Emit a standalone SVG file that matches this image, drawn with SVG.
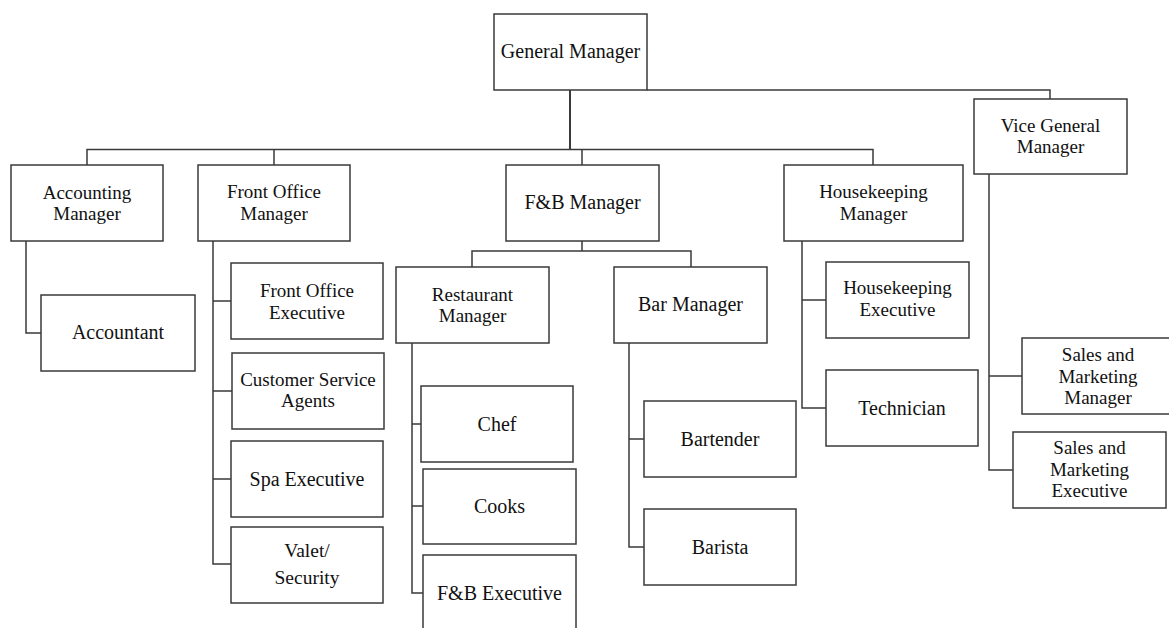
<svg xmlns="http://www.w3.org/2000/svg" width="1169" height="628" viewBox="0 0 1169 628">
<style>
.box{fill:#fff;stroke:#3a3a3a;stroke-width:1.5}
.ln{fill:none;stroke:#3a3a3a;stroke-width:1.5}
text{font-family:"Liberation Serif","Times New Roman",serif;font-size:19.5px;fill:#111;text-anchor:middle}
.m{font-size:19px}
</style>
<rect width="1169" height="628" fill="#fff"/>
<g id="connectors">
<path class="ln" d="M570,90 V149.5" style="stroke-width:2"/>
<path class="ln" d="M87,165 V149.5 H873 V165"/>
<path class="ln" d="M274,149.5 V165"/>
<path class="ln" d="M582,149.5 V165"/>
<path class="ln" d="M647,90 H1050 V99"/>
<path class="ln" d="M26,241 V333 H41"/>
<path class="ln" d="M213,241 V564 H231 M213,301 H231 M213,391 H232 M213,479 H231"/>
<path class="ln" d="M582,241 V251 M472,267 V251 H691 V267"/>
<path class="ln" d="M412,343 V593 H423 M412,424 H421 M412,506 H423"/>
<path class="ln" d="M629,343 V547 H644 M629,439 H644"/>
<path class="ln" d="M802,241 V408 H826 M802,300 H826"/>
<path class="ln" d="M989,174 V470 H1013 M989,376 H1022"/>
</g>
<g id="general-manager"><rect class="box" x="494" y="14" width="153" height="76"/><text x="570.5" y="58" style="font-size:20px">General Manager</text></g>
<g id="accounting-manager"><rect class="box" x="11" y="165" width="152" height="76"/><text class="m" x="87" y="198.5">Accounting</text><text class="m" x="87" y="220">Manager</text></g>
<g id="front-office-manager"><rect class="box" x="198" y="165" width="152" height="76"/><text class="m" x="274" y="198">Front Office</text><text class="m" x="274" y="219.5">Manager</text></g>
<g id="fb-manager"><rect class="box" x="506" y="165" width="153" height="76"/><text x="582.5" y="209" style="font-size:20px">F&amp;B Manager</text></g>
<g id="housekeeping-manager"><rect class="box" x="784" y="165" width="179" height="76"/><text class="m" x="873.5" y="198">Housekeeping</text><text class="m" x="873.5" y="219.5">Manager</text></g>
<g id="vice-general-manager"><rect class="box" x="974" y="99" width="153" height="75"/><text class="m" x="1050.5" y="131.5">Vice General</text><text class="m" x="1050.5" y="153">Manager</text></g>
<g id="accountant"><rect class="box" x="41" y="295" width="154" height="76"/><text x="118" y="339" style="font-size:20px">Accountant</text></g>
<g id="front-office-executive"><rect class="box" x="231" y="263" width="152" height="76"/><text class="m" x="307" y="297">Front Office</text><text class="m" x="307" y="318.5">Executive</text></g>
<g id="customer-service-agents"><rect class="box" x="232" y="353" width="152" height="76"/><text class="m" x="308" y="385.5">Customer Service</text><text class="m" x="308" y="407">Agents</text></g>
<g id="spa-executive"><rect class="box" x="231" y="441" width="152" height="76"/><text x="307" y="486" style="font-size:20px">Spa Executive</text></g>
<g id="valet-security"><rect class="box" x="231" y="527" width="152" height="76"/><text x="307" y="557">Valet/</text><text x="307" y="584">Security</text></g>
<g id="restaurant-manager"><rect class="box" x="396" y="267" width="153" height="76"/><text class="m" x="472.5" y="300.5">Restaurant</text><text class="m" x="472.5" y="322">Manager</text></g>
<g id="bar-manager"><rect class="box" x="614" y="267" width="153" height="76"/><text x="690.5" y="311" style="font-size:20px">Bar Manager</text></g>
<g id="chef"><rect class="box" x="421" y="386" width="152" height="76"/><text x="497" y="431" style="font-size:20px">Chef</text></g>
<g id="cooks"><rect class="box" x="423" y="469" width="153" height="75"/><text x="499.5" y="513" style="font-size:20px">Cooks</text></g>
<g id="fb-executive"><rect class="box" x="423" y="555" width="153" height="76"/><text x="499.5" y="600" style="font-size:20px">F&amp;B Executive</text></g>
<g id="bartender"><rect class="box" x="644" y="401" width="152" height="76"/><text x="720" y="446" style="font-size:20px">Bartender</text></g>
<g id="barista"><rect class="box" x="644" y="509" width="152" height="76"/><text x="720" y="554" style="font-size:20px">Barista</text></g>
<g id="housekeeping-executive"><rect class="box" x="826" y="262" width="143" height="76"/><text class="m" x="897.5" y="294">Housekeeping</text><text class="m" x="897.5" y="315.5">Executive</text></g>
<g id="technician"><rect class="box" x="826" y="370" width="152" height="76"/><text x="902" y="415" style="font-size:20px">Technician</text></g>
<g id="sales-marketing-manager"><rect class="box" x="1022" y="338" width="152" height="76"/><text class="m" x="1098" y="361">Sales and</text><text class="m" x="1098" y="382.5">Marketing</text><text class="m" x="1098" y="404">Manager</text></g>
<g id="sales-marketing-executive"><rect class="box" x="1013" y="432" width="153" height="76"/><text class="m" x="1089.5" y="454">Sales and</text><text class="m" x="1089.5" y="475.5">Marketing</text><text class="m" x="1089.5" y="497">Executive</text></g>
</svg>
